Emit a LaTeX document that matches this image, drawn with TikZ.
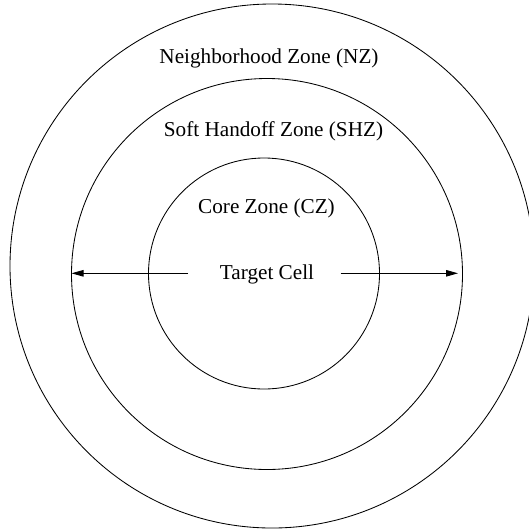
\documentclass[tikz,border=0pt]{standalone}
\usepackage{fontspec}
\setmainfont{Liberation Serif}
\usetikzlibrary{arrows.meta}
\begin{document}
\begin{tikzpicture}[x=1pt,y=-1pt,
  zone/.style={circle,draw=black,line width=0.85pt,inner sep=0pt,outer sep=0pt},
  lbl/.style={anchor=base,inner sep=0pt,font=\fontsize{21.2}{25}\selectfont},
  arr/.style={line width=0.85pt,-{Triangle[length=12pt,width=6.5pt]}}]
\useasboundingbox (0,0) rectangle (529,528);
\clip (0,0) rectangle (529,528);
\node[zone,minimum size=524pt] (outer) at (272,266) {};
\node[zone,minimum size=391pt] (middle) at (267,274) {};
\node[zone,minimum size=231pt] (inner) at (264,273.5) {};
\node[lbl] (nz) at (269,63) {Neighborhood Zone (NZ)};
\node[lbl] (shz) at (273.5,136) {Soft Handoff Zone (SHZ)};
\node[lbl] (cz) at (266.5,213.5) {Core Zone (CZ)};
\node[lbl] (tc) at (267,279.3) {Target Cell};
\coordinate (aL) at (188,273.3);
\coordinate (aR) at (340.5,273.3);
\draw[arr] (aL) -- (middle.west |- aL);
\draw[arr,shorten >=4.5pt] (aR) -- (middle.east |- aR);
\end{tikzpicture}
\end{document}
